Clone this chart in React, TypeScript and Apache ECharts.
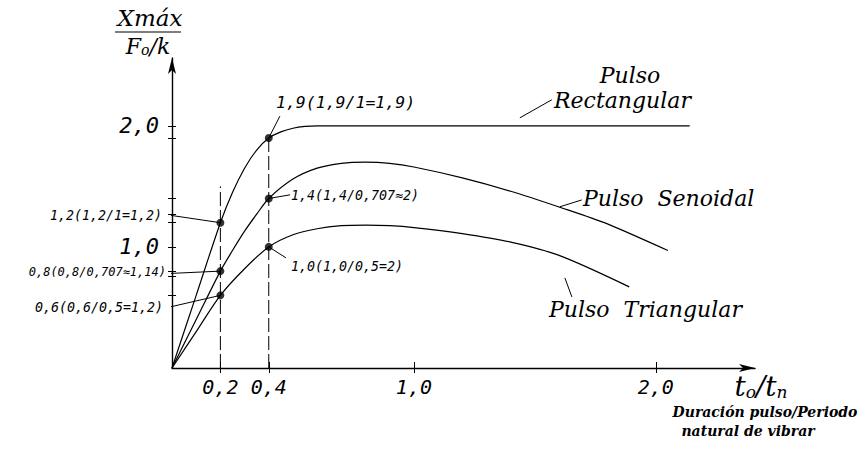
import React, { useEffect, useRef } from "react";
import * as echarts from "echarts";

// t0/tn values and Xmax/(F0/k) responses
const rectT = [0, 0.1, 0.2, 0.25, 0.3, 0.35, 0.4, 0.45, 0.5, 0.55, 0.6, 0.7, 1.0, 1.5, 2.14];
const rectR = [0, 0.6, 1.2, 1.45, 1.65, 1.8, 1.9, 1.95, 1.98, 1.995, 2.0, 2.0, 2.0, 2.0, 2.0];

const sineT = [0, 0.1, 0.2, 0.25, 0.3, 0.35, 0.4, 0.5, 0.6, 0.7, 0.8, 0.9, 1.0, 1.2, 1.4, 1.6, 1.8, 2.05];
const sineR = [0, 0.4, 0.8, 0.97, 1.13, 1.27, 1.4, 1.56, 1.65, 1.69, 1.7, 1.69, 1.66, 1.57, 1.46, 1.33, 1.19, 0.97];

const triT = [0, 0.1, 0.2, 0.3, 0.4, 0.5, 0.6, 0.7, 0.8, 0.9, 1.0, 1.2, 1.4, 1.6, 1.89];
const triR = [0, 0.3, 0.6, 0.82, 1.0, 1.1, 1.15, 1.175, 1.18, 1.175, 1.16, 1.11, 1.04, 0.93, 0.67];

const markedT = [0.2, 0.2, 0.2, 0.4, 0.4, 0.4];
const markedR = [1.2, 0.8, 0.6, 1.9, 1.4, 1.0];

const xTickLabels = [0.2, 0.4, 1.0, 2.0];
const yTickLabels = [1.0, 2.0];
const yTicks = [0.6, 0.76, 0.8, 1.0, 1.2, 1.27, 1.4, 1.9, 2.0];

const dashedT = [0.2, 0.4];
const dashedTop = [1.5, 1.9];

// leader lines: [from point, to label anchor]
const leaders: number[][][] = [
  [[0.4, 1.9], [0.446, 2.08]],
  [[0.4, 1.4], [0.488, 1.43]],
  [[0.4, 1.0], [0.471, 0.91]],
  [[0.2, 1.2], [-0.02, 1.265]],
  [[0.2, 0.8], [-0.017, 0.78]],
  [[0.2, 0.6], [-0.017, 0.5]],
  [[1.438, 2.066], [1.57, 2.215]],
  [[1.603, 1.331], [1.694, 1.388]],
  [[1.624, 0.744], [1.653, 0.587]],
];

const fmt = (v: number) => v.toFixed(1).replace(".", ",");

export default function App() {
  const ref = useRef<HTMLDivElement>(null);
  useEffect(() => {
    if (!ref.current) return;
    const chart = echarts.init(ref.current, null, { renderer: "svg" });
    const black = "#000";
    const curve = (t: number[], r: number[]) => ({
      type: "line",
      data: t.map((x, i) => [x, r[i]]),
      smooth: 0.3,
      symbol: "none",
      lineStyle: { color: black, width: 1.2 },
      z: 3,
    });
    const serif = "DejaVu Serif";
    const mono = "DejaVu Sans Mono";
    const annot = (text: string, x: number, y: number, align = "left", size = 13.3) => ({
      type: "text",
      x,
      y,
      style: {
        text,
        fill: black,
        font: `italic ${size}px "${mono}"`,
        textAlign: align,
        textVerticalAlign: "middle",
      },
    });
    const bigText = (text: string, x: number, y: number, size = 20, align = "left") => ({
      type: "text",
      x,
      y,
      style: {
        text,
        fill: black,
        font: `italic ${size}px "${serif}"`,
        textAlign: align,
        textVerticalAlign: "middle",
      },
    });
    chart.setOption({
      animation: false,
      backgroundColor: "#fff",
      grid: { left: 172, top: 58, right: 111, bottom: 82, containLabel: false },
      xAxis: [
        {
          type: "value",
          min: 0,
          max: 2.41,
          splitLine: { show: false },
          axisLine: {
            lineStyle: { color: black, width: 1.4 },
            symbol: ["none", "arrow"],
            symbolSize: [6, 16],
          },
          axisTick: { show: true, customValues: xTickLabels, length: 5, lineStyle: { color: black } },
          axisLabel: {
            customValues: xTickLabels,
            formatter: (v: number) => fmt(v),
            color: black,
            fontFamily: mono,
            fontStyle: "italic",
            fontSize: 20,
            margin: 9,
          },
        },
        {
          type: "value",
          min: 0,
          max: 2.41,
          position: "bottom",
          splitLine: { show: false },
          axisLine: { show: false },
          axisTick: { show: true, inside: true, customValues: xTickLabels, length: 6, lineStyle: { color: black } },
          axisLabel: { show: false },
        },
      ],
      yAxis: [
        {
          type: "value",
          min: 0,
          max: 2.56,
          splitLine: { show: false },
          axisLine: {
            lineStyle: { color: black, width: 1.4 },
            symbol: ["none", "arrow"],
            symbolSize: [6, 16],
          },
          axisTick: { show: true, customValues: yTicks, length: 4, lineStyle: { color: black } },
          axisLabel: {
            customValues: yTickLabels,
            formatter: (v: number) => fmt(v),
            color: black,
            fontFamily: mono,
            fontStyle: "italic",
            fontSize: 22,
            margin: 13,
          },
        },
        {
          type: "value",
          min: 0,
          max: 2.56,
          position: "left",
          splitLine: { show: false },
          axisLine: { show: false },
          axisTick: { show: true, inside: true, customValues: yTicks, length: 4, lineStyle: { color: black } },
          axisLabel: { show: false },
        },
      ],
      series: [
        curve(rectT, rectR),
        curve(sineT, sineR),
        curve(triT, triR),
        ...dashedT.map((t, i) => ({
          type: "line",
          data: [
            [t, 0],
            [t, dashedTop[i]],
          ],
          symbol: "none",
          lineStyle: { color: black, width: 1, type: [14, 4] },
          z: 2,
        })),
        ...leaders.map((seg) => ({
          type: "line",
          data: seg,
          symbol: "none",
          clip: false,
          lineStyle: { color: black, width: 1 },
          z: 2,
        })),
        {
          type: "scatter",
          data: markedT.map((t, i) => [t, markedR[i]]),
          symbol: "circle",
          symbolSize: 8,
          itemStyle: { color: black },
          z: 5,
        },
      ],
      graphic: [
        annot("1,9(1,9/1=1,9)", 276, 102, "left", 16.5),
        annot("1,4(1,4/0,707≈2)", 291, 195),
        annot("1,0(1,0/0,5=2)", 291, 266),
        annot("1,2(1,2/1=1,2)", 162, 215, "right"),
        annot("0,8(0,8/0,707≈1,14)", 166, 272, "right", 12),
        annot("0,6(0,6/0,5=1,2)", 163, 307, "right"),
        bigText("Pulso", 630, 75, 22, "center"),
        bigText("Rectangular", 554, 100, 22),
        bigText("Pulso  Senoidal", 583, 198, 22),
        bigText("Pulso  Triangular", 549, 309, 22),
        bigText("Xmáx", 150, 18, 23, "center"),
        {
          type: "line",
          shape: { x1: 115, y1: 32, x2: 181, y2: 32 },
          style: { stroke: black, lineWidth: 1.2 },
        },
        {
          type: "text",
          x: 148,
          y: 47,
          style: {
            text: "{a|F}{b|o}{a|/k}",
            textAlign: "center",
            textVerticalAlign: "middle",
            rich: {
              a: { font: `italic 22px "${serif}"`, fill: black, verticalAlign: "bottom", lineHeight: 20 },
              b: { font: `italic 14px "${serif}"`, fill: black, verticalAlign: "bottom", lineHeight: 20 },
            },
          },
        },
        {
          type: "text",
          x: 761,
          y: 389,
          style: {
            text: "{a|t}{b|o}{a|/t}{b|n}",
            textAlign: "center",
            textVerticalAlign: "middle",
            rich: {
              a: { font: `italic 28px "${serif}"`, fill: black, verticalAlign: "bottom", lineHeight: 22 },
              b: { font: `italic 17px "${serif}"`, fill: black, verticalAlign: "bottom", lineHeight: 22 },
            },
          },
        },
        {
          type: "text",
          x: 765,
          y: 412,
          style: {
            text: "Duración pulso/Periodo",
            fill: black,
            font: `italic bold 14px "${serif}"`,
            textAlign: "center",
            textVerticalAlign: "middle",
          },
        },
        {
          type: "text",
          x: 748,
          y: 431,
          style: {
            text: "natural de vibrar",
            fill: black,
            font: `italic bold 14px "${serif}"`,
            textAlign: "center",
            textVerticalAlign: "middle",
          },
        },
      ],
    });
    return () => chart.dispose();
  }, []);
  return (
    <div
      ref={ref}
      style={{ position: "fixed", left: 0, top: 0, width: 866, height: 450, background: "#fff" }}
    />
  );
}
